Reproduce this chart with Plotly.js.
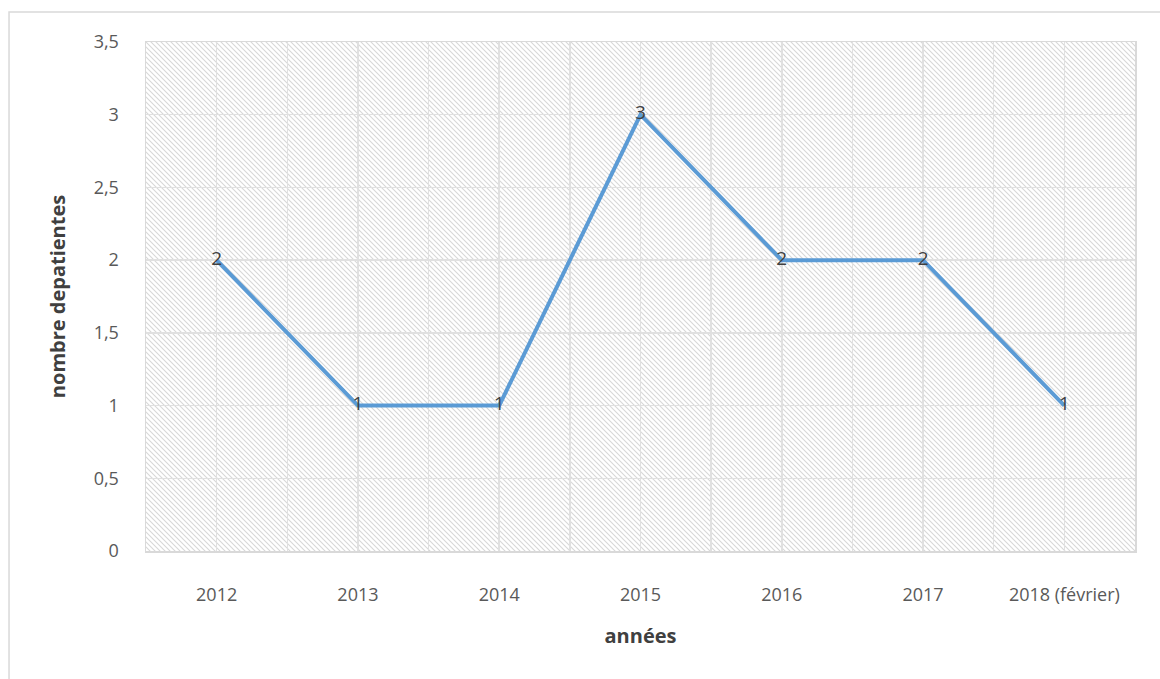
<!DOCTYPE html>
<html>
<head>
<meta charset="utf-8">
<script src="https://cdn.plot.ly/plotly-3.0.1.min.js"></script>
<style>html,body{margin:0;padding:0;background:#fff;}#chart{width:1160px;height:679px;}</style>
</head>
<body>
<div id="chart"></div>
<script>
const categories = ["2012", "2013", "2014", "2015", "2016", "2017", "2018 (février)"];
const patients = [2, 1, 1, 3, 2, 2, 1];
const xTitle = "années";
const yTitle = "nombre depatientes";

const positions = categories.map((c, i) => i);

const svg = '<svg xmlns="http://www.w3.org/2000/svg" width="989" height="509">' +
  '<defs><pattern id="p" width="5" height="5" patternUnits="userSpaceOnUse">' +
  '<path d="M0,0 L5,5 M-1,4 L1,6 M4,-1 L6,1" stroke="#d7d7d7" stroke-width="1.1"/>' +
  '</pattern></defs><rect width="100%" height="100%" fill="#fff"/><rect width="100%" height="100%" fill="url(#p)"/></svg>';

const font = "'Open Sans', sans-serif";

const trace = {
  type: "scatter",
  mode: "lines+text",
  x: positions,
  y: patients,
  text: patients.map(String),
  textposition: "middle center",
  textfont: {family: font, size: 19, color: "#404040"},
  line: {color: "#5B9BD5", width: 4},
  hoverinfo: "skip",
  cliponaxis: false
};

const layout = {
  width: 1160,
  height: 679,
  margin: {l: 146, r: 25, t: 42, b: 128},
  paper_bgcolor: "#ffffff",
  plot_bgcolor: "#ffffff",
  separators: ", ",
  showlegend: false,
  font: {family: font, size: 18, color: "#595959"},
  xaxis: {
    type: "linear",
    range: [-0.5, categories.length - 0.5],
    tickvals: positions,
    ticktext: categories,
    showgrid: true,
    gridcolor: "#e0e0e0",
    gridwidth: 1.5,
    minor: {dtick: 0.5, tick0: 0.5, showgrid: true, gridcolor: "#e0e0e0", gridwidth: 1.5, ticks: ""},
    zeroline: false,
    showline: true,
    mirror: true,
    linecolor: "#d9d9d9",
    linewidth: 1.5,
    ticks: "",
    ticklabelstandoff: 27,
    tickfont: {family: font, size: 18, color: "#595959"},
    title: {text: xTitle, font: {family: font, size: 20, color: "#404040", weight: "bold"}, standoff: 24}
  },
  yaxis: {
    range: [0, 3.5],
    dtick: 0.5,
    tick0: 0,
    showgrid: true,
    gridcolor: "#e0e0e0",
    gridwidth: 1.5,
    zeroline: false,
    showline: true,
    mirror: true,
    linecolor: "#d9d9d9",
    linewidth: 1.5,
    ticks: "",
    ticklabelstandoff: 22,
    tickfont: {family: font, size: 18, color: "#595959"},
    title: {text: yTitle, font: {family: font, size: 20, color: "#404040", weight: "bold"}, standoff: 22}
  },
  images: [{
    source: "data:image/svg+xml;charset=utf-8," + encodeURIComponent(svg),
    xref: "x domain", yref: "y domain",
    x: 0, y: 1, sizex: 1, sizey: 1,
    xanchor: "left", yanchor: "top",
    sizing: "stretch",
    layer: "below"
  }],
  shapes: [{
    type: "rect", xref: "paper", yref: "paper",
    x0: -0.1385, x1: 1.04, y0: -0.3, y1: 1.0589,
    line: {color: "#d9d9d9", width: 1.5},
    fillcolor: "rgba(0,0,0,0)",
    layer: "below"
  }]
};

Plotly.newPlot("chart", [trace], layout, {displayModeBar: false, staticPlot: true});
</script>
</body>
</html>
